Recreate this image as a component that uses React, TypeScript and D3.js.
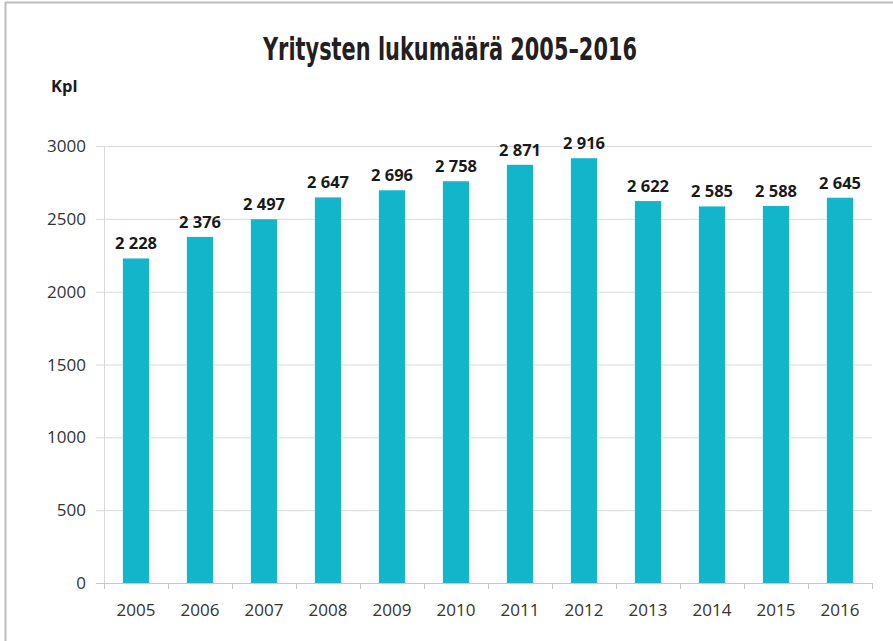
import React from "react";
import * as d3 from "d3";

const years = ["2005", "2006", "2007", "2008", "2009", "2010", "2011", "2012", "2013", "2014", "2015", "2016"];
const counts = [2228, 2376, 2497, 2647, 2696, 2758, 2871, 2916, 2622, 2585, 2588, 2645];
const yTicks = [0, 500, 1000, 1500, 2000, 2500, 3000];
const title = "Yritysten lukumäärä 2005–2016";
const unitLabel = "Kpl";

const W = 893;
const H = 641;
const margin = { left: 104, right: 21, top: 146, bottom: 58 };
const BAR = "#12b5c9";
const FONT = "'Open Sans', 'DejaVu Sans', sans-serif";
const TITLE_FONT = "'Liberation Sans Narrow', 'DejaVu Sans Condensed', 'Roboto', sans-serif";

const fmt = (v: number) => {
  const s = String(v);
  return s.length > 3 ? s.slice(0, s.length - 3) + " " + s.slice(s.length - 3) : s;
};

export default function App() {
  const x = d3
    .scaleBand<string>()
    .domain(years)
    .range([margin.left, W - margin.right])
    .paddingInner(0.59)
    .paddingOuter(0.295);
  const y = d3.scaleLinear().domain([0, 3000]).range([H - margin.bottom, margin.top]);
  const step = x.step();
  const x0 = margin.left;
  const x1 = W - margin.right;
  const y0 = y(0);

  return (
    <svg
      width={W}
      height={H}
      style={{ position: "absolute", left: 0, top: 0, display: "block", background: "#fff" }}
    >
      <rect x={0} y={0} width={W} height={H} fill="#fff" />
      <line x1={5} x2={W} y1={2.5} y2={2.5} stroke="#bdbdbd" strokeWidth={2} />
      <line x1={5.5} x2={5.5} y1={2} y2={H} stroke="#bdbdbd" strokeWidth={2} />

      <text
        x={450}
        y={60}
        textAnchor="middle"
        fontFamily={TITLE_FONT}
        fontWeight="bold"
        fontSize={32}
        fill="#231f20"
        textLength={374}
        lengthAdjust="spacingAndGlyphs"
      >
        {title}
      </text>
      <text x={51} y={92} fontFamily={FONT} fontWeight="bold" fontSize={16.5} fill="#1a1a1a">
        {unitLabel}
      </text>

      {yTicks.map((t) => (
        <g key={t}>
          {t > 0 && (
            <line x1={96} x2={x1} y1={y(t) + 0.5} y2={y(t) + 0.5} stroke="#d9d9d9" strokeWidth={1} />
          )}
          <text
            x={86}
            y={y(t)}
            dy="0.36em"
            textAnchor="end"
            fontFamily={FONT}
            fontSize={17}
            fill="#333"
          >
            {t}
          </text>
        </g>
      ))}
      <line x1={x0 + 0.5} x2={x0 + 0.5} y1={y(3000)} y2={y0} stroke="#d9d9d9" strokeWidth={1} />

      {years.map((yr, i) => (
        <rect
          key={yr}
          x={x(yr)!}
          y={y(counts[i])}
          width={x.bandwidth()}
          height={y0 - y(counts[i])}
          fill={BAR}
        />
      ))}

      <line x1={96} x2={x1} y1={y0 + 0.5} y2={y0 + 0.5} stroke="#c8c8c8" strokeWidth={1} />
      {d3.range(years.length + 1).map((i) => (
        <line
          key={i}
          x1={x0 + i * step + 0.5}
          x2={x0 + i * step + 0.5}
          y1={y0}
          y2={y0 + 6}
          stroke="#c8c8c8"
          strokeWidth={1}
        />
      ))}
      {years.map((yr) => (
        <text
          key={yr}
          x={x(yr)! + x.bandwidth() / 2}
          y={616}
          textAnchor="middle"
          fontFamily={FONT}
          fontSize={17}
          fill="#333"
        >
          {yr}
        </text>
      ))}

      {years.map((yr, i) => (
        <text
          key={yr}
          x={x(yr)! + x.bandwidth() / 2}
          y={y(counts[i]) - 9}
          textAnchor="middle"
          fontFamily={FONT}
          fontWeight="bold"
          fontSize={16.5}
          fill="#1a1a1a"
        >
          {fmt(counts[i])}
        </text>
      ))}
    </svg>
  );
}
